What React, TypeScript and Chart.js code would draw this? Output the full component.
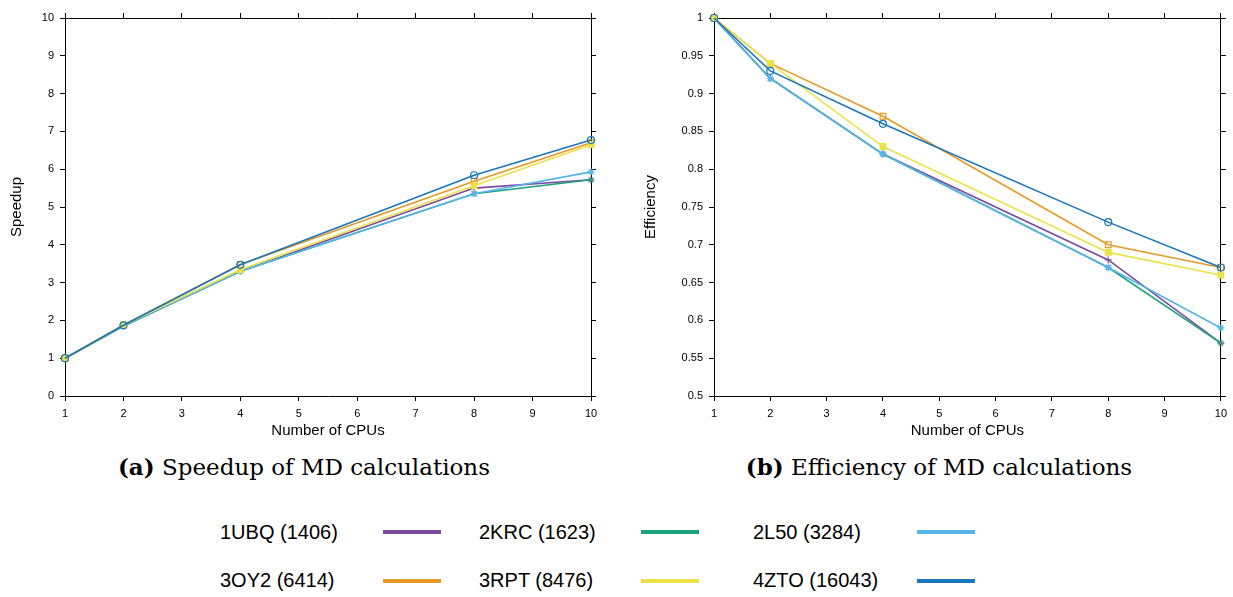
import React, { useEffect, useRef } from 'react';
import { Chart, registerables } from 'chart.js';

Chart.register(...registerables);

// ---------- data ----------
const cpus = [1, 2, 4, 8, 10];

const seriesNames = ['1UBQ (1406)', '2KRC (1623)', '2L50 (3284)', '3OY2 (6414)', '3RPT (8476)', '4ZTO (16043)'];
const seriesColors = ['#7b4a9f', '#1aa37c', '#56b4e9', '#e69a25', '#ebe24a', '#1b76ba'];
const seriesPointStyles = ['cross', 'crossRot', 'star', 'rect', 'rect', 'circle'];
const seriesPointFilled = [false, false, false, false, true, false];

const speedup1UBQ = [1, 1.85, 3.3, 5.5, 5.72];
const speedup2KRC = [1, 1.85, 3.3, 5.35, 5.72];
const speedup2L50 = [1, 1.85, 3.3, 5.35, 5.93];
const speedup3OY2 = [1, 1.88, 3.48, 5.68, 6.7];
const speedup3RPT = [1, 1.88, 3.34, 5.56, 6.65];
const speedup4ZTO = [1, 1.87, 3.47, 5.84, 6.77];

const efficiency1UBQ = [1, 0.92, 0.82, 0.68, 0.57];
const efficiency2KRC = [1, 0.92, 0.82, 0.67, 0.57];
const efficiency2L50 = [1, 0.92, 0.82, 0.67, 0.59];
const efficiency3OY2 = [1, 0.94, 0.87, 0.7, 0.67];
const efficiency3RPT = [1, 0.94, 0.83, 0.69, 0.66];
const efficiency4ZTO = [1, 0.93, 0.86, 0.73, 0.67];

const speedupSeries = [speedup1UBQ, speedup2KRC, speedup2L50, speedup3OY2, speedup3RPT, speedup4ZTO];
const efficiencySeries = [efficiency1UBQ, efficiency2KRC, efficiency2L50, efficiency3OY2, efficiency3RPT, efficiency4ZTO];

const xTitle = 'Number of CPUs';
const speedupTitle = 'Speedup';
const efficiencyTitle = 'Efficiency';

const captionA = ['(a)', 'Speedup of MD calculations'];
const captionB = ['(b)', 'Efficiency of MD calculations'];

const SANS = '"Liberation Sans", Arial, Helvetica, sans-serif';
const SERIF = '"DejaVu Serif", serif';

function fmt(v: number) {
  return String(Number(Number(v).toFixed(2)));
}

function buildDatasets(values: number[][]) {
  return values.map((arr, i) => ({
    label: seriesNames[i],
    data: cpus.map((x, j) => ({ x, y: arr[j] })),
    borderColor: seriesColors[i],
    backgroundColor: seriesColors[i],
    borderWidth: 1.6,
    tension: 0,
    pointStyle: seriesPointStyles[i],
    pointRadius: seriesPointStyles[i] === 'rect' ? 4 : 3.5,
    pointBorderWidth: 1.2,
    pointBorderColor: seriesColors[i],
    pointBackgroundColor: seriesPointFilled[i] ? seriesColors[i] : 'rgba(255,255,255,0)',
    order: values.length - 1 - i,
    clip: 10,
  }));
}

type PanelCfg = {
  values: number[][];
  yMin: number;
  yMax: number;
  yStep: number;
  yTitle: string;
  yWidth: number;
  y2Width: number;
  yTitlePad: number;
  width: number;
  height: number;
};

function buildOptions(c: PanelCfg) {
  const tickFont = { size: 11, family: SANS };
  const titleFont = { size: 15, family: SANS, lineHeight: 1.2 };
  const grid = { drawOnChartArea: false, tickLength: 5, color: '#000', lineWidth: 1 };
  const border = { display: true, color: '#000', width: 1 };
  return {
    animation: false,
    responsive: false,
    maintainAspectRatio: false,
    layout: { padding: 0 },
    plugins: { legend: { display: false }, tooltip: { enabled: false }, title: { display: false } },
    scales: {
      x: {
        type: 'linear',
        position: 'bottom',
        min: 1,
        max: 10,
        ticks: { stepSize: 1, color: '#000', font: tickFont, padding: 6, maxRotation: 0, autoSkip: false, callback: (v: number) => fmt(v) },
        grid,
        border,
        title: { display: true, text: xTitle, color: '#000', font: titleFont, padding: { top: 0, bottom: 6 } },
        afterFit: (s: any) => { s.height = c.height - 396; },
      },
      x2: {
        type: 'linear',
        position: 'top',
        min: 1,
        max: 10,
        ticks: { display: false, stepSize: 1 },
        grid,
        border,
        afterFit: (s: any) => { s.height = 18; },
      },
      y: {
        type: 'linear',
        position: 'left',
        min: c.yMin,
        max: c.yMax,
        ticks: { stepSize: c.yStep, color: '#000', font: tickFont, padding: 6, callback: (v: number) => fmt(v) },
        grid,
        border,
        title: { display: true, text: c.yTitle, color: '#000', font: titleFont, padding: { top: c.yTitlePad, bottom: 0 } },
        afterFit: (s: any) => { s.width = c.yWidth; },
      },
      y2: {
        type: 'linear',
        position: 'right',
        min: c.yMin,
        max: c.yMax,
        ticks: { display: false, stepSize: c.yStep },
        grid,
        border,
        afterFit: (s: any) => { s.width = c.y2Width; },
      },
    },
  };
}

function Panel({ cfg, left }: { cfg: PanelCfg; left: number }) {
  const ref = useRef<HTMLCanvasElement | null>(null);
  useEffect(() => {
    if (!ref.current) return;
    const chart = new Chart(ref.current, {
      type: 'line',
      data: { datasets: buildDatasets(cfg.values) as any },
      options: buildOptions(cfg) as any,
    });
    return () => chart.destroy();
  }, [cfg]);
  return (
    <canvas
      ref={ref}
      width={cfg.width}
      height={cfg.height}
      style={{ position: 'absolute', left, top: 0, width: cfg.width, height: cfg.height, display: 'block' }}
    />
  );
}

const leftCfg: PanelCfg = {
  values: speedupSeries,
  yMin: 0,
  yMax: 10,
  yStep: 1,
  yTitle: speedupTitle,
  yWidth: 65,
  y2Width: 29,
  yTitlePad: 8,
  width: 620,
  height: 446,
};

const rightCfg: PanelCfg = {
  values: efficiencySeries,
  yMin: 0.5,
  yMax: 1,
  yStep: 0.05,
  yTitle: efficiencyTitle,
  yWidth: 94,
  y2Width: 7,
  yTitlePad: 22,
  width: 613,
  height: 446,
};

const legendColX = [220, 479, 753];
const legendLineX = [383, 641, 917];
const legendRowY = [532, 580];
const legendLineRowY = [532, 581];

function Caption({ parts, cx }: { parts: string[]; cx: number }) {
  return (
    <div
      style={{
        position: 'absolute',
        left: cx - 300,
        width: 600,
        top: 455,
        height: 24,
        lineHeight: '24px',
        textAlign: 'center',
        fontFamily: SERIF,
        fontSize: 23,
        color: '#000',
        whiteSpace: 'nowrap',
      }}
    >
      <b>{parts[0]}</b> {parts[1]}
    </div>
  );
}

export default function App() {
  return (
    <div style={{ position: 'absolute', left: 0, top: 0, width: 1233, height: 597, background: '#fff', overflow: 'hidden' }}>
      <Panel cfg={leftCfg} left={0} />
      <Panel cfg={rightCfg} left={620} />
      <Caption parts={captionA} cx={304} />
      <Caption parts={captionB} cx={939} />
      {seriesNames.map((name, i) => {
        const col = i % 3;
        const row = Math.floor(i / 3);
        return (
          <React.Fragment key={name}>
            <div
              style={{
                position: 'absolute',
                left: legendColX[col],
                top: legendRowY[row] - 10,
                height: 20,
                lineHeight: '20px',
                fontFamily: SANS,
                fontSize: 20,
                color: '#000',
                whiteSpace: 'nowrap',
              }}
            >
              {name}
            </div>
            <div
              style={{
                position: 'absolute',
                left: legendLineX[col],
                top: legendLineRowY[row] - 2,
                width: 58,
                height: 4,
                background: seriesColors[i],
              }}
            />
          </React.Fragment>
        );
      })}
    </div>
  );
}
